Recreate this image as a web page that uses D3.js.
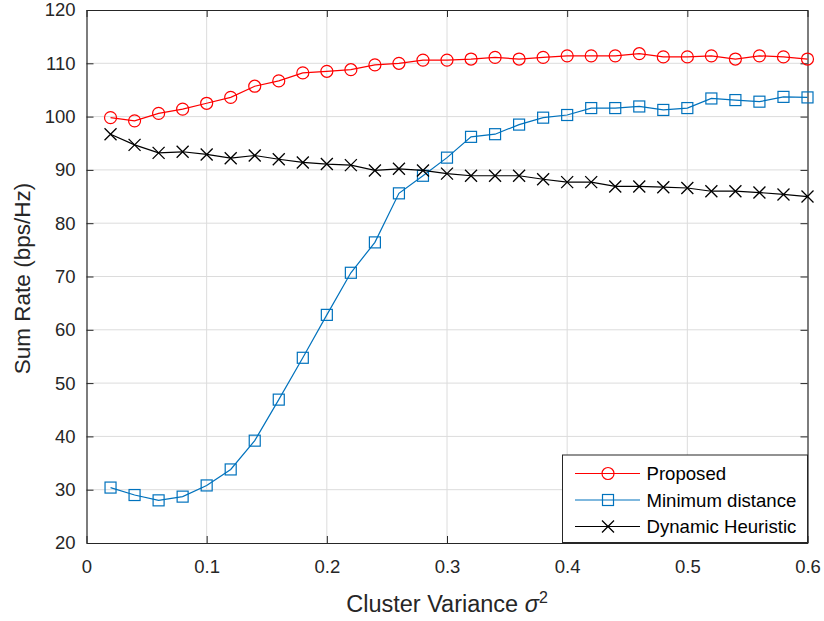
<!DOCTYPE html>
<html><head><meta charset="utf-8">
<script src="https://cdn.jsdelivr.net/npm/d3@7"></script>
<style>body{margin:0;background:#fff}svg{display:block}</style>
</head><body>
<script>
const xValues = [0.02,0.04,0.06,0.08,0.10,0.12,0.14,0.16,0.18,0.20,0.22,0.24,0.26,0.28,0.30,0.32,0.34,0.36,0.38,0.40,0.42,0.44,0.46,0.48,0.50,0.52,0.54,0.56,0.58,0.60];
const proposed = [99.8,99.2,100.6,101.4,102.5,103.6,105.7,106.7,108.2,108.5,108.8,109.7,110.0,110.6,110.6,110.8,111.1,110.8,111.1,111.4,111.4,111.4,111.8,111.2,111.2,111.4,110.8,111.4,111.2,110.8];
const minDistance = [30.4,29.0,28.0,28.7,30.8,33.8,39.2,46.9,54.75,62.8,70.7,76.4,85.6,88.9,92.3,96.2,96.7,98.5,99.8,100.3,101.6,101.6,101.9,101.25,101.6,103.4,103.1,102.8,103.7,103.6];
const heuristic = [96.7,94.7,93.2,93.4,92.9,92.2,92.7,92.0,91.4,91.1,90.9,89.9,90.2,89.9,89.3,88.9,88.9,88.9,88.25,87.7,87.7,86.9,86.9,86.75,86.6,86.0,86.0,85.75,85.4,85.0];
const xTicks = [0,0.1,0.2,0.3,0.4,0.5,0.6];
const xTickLabels = ["0","0.1","0.2","0.3","0.4","0.5","0.6"];
const yTicks = [20,30,40,50,60,70,80,90,100,110,120];
const seriesNames = ["Proposed","Minimum distance","Dynamic Heuristic"];

const W=824,H=621;
const L=86.5,R=807.5,T=10,B=543;
const svg=d3.select("body").append("svg").attr("width",W).attr("height",H);
const x=d3.scaleLinear().domain([0,0.6]).range([L,R]);
const y=d3.scaleLinear().domain([20,120]).range([B,T]);
const font="'Liberation Sans', Arial, Helvetica, sans-serif";
const axisCol="#262626";

// grid
const g=svg.append("g");
g.selectAll(".gx").data(xTicks.slice(1,-1)).enter().append("line")
 .attr("x1",d=>x(d)).attr("x2",d=>x(d)).attr("y1",T).attr("y2",B)
 .attr("stroke","#dcdcdc").attr("stroke-width",1);
g.selectAll(".gy").data(yTicks.slice(1,-1)).enter().append("line")
 .attr("y1",d=>y(d)).attr("y2",d=>y(d)).attr("x1",L).attr("x2",R)
 .attr("stroke","#dcdcdc").attr("stroke-width",1);

// axes
const xAxisB=d3.axisBottom(x).tickValues(xTicks).tickFormat((d,i)=>xTickLabels[i]).tickSizeInner(-7).tickSizeOuter(0).tickPadding(17);
const xAxisT=d3.axisTop(x).tickValues(xTicks).tickFormat("").tickSizeInner(-7).tickSizeOuter(0);
const yAxisL=d3.axisLeft(y).tickValues(yTicks).tickSizeInner(-7).tickSizeOuter(0).tickPadding(11);
const yAxisR=d3.axisRight(y).tickValues(yTicks).tickFormat("").tickSizeInner(-7).tickSizeOuter(0);
function styleAxis(sel){
  sel.selectAll("path").attr("stroke",axisCol).attr("stroke-width",1.2);
  sel.selectAll("line").attr("stroke",axisCol).attr("stroke-width",1);
  sel.selectAll("text").attr("fill",axisCol).style("font-family",font).style("font-size","18.5px");
}
styleAxis(svg.append("g").attr("transform",`translate(0,${B})`).call(xAxisB));
styleAxis(svg.append("g").attr("transform",`translate(0,${T})`).call(xAxisT));
styleAxis(svg.append("g").attr("transform",`translate(${L},0)`).call(yAxisL));
styleAxis(svg.append("g").attr("transform",`translate(${R},0)`).call(yAxisR));

// lines
const series=[
 {name:seriesNames[0],vals:proposed,color:"#ff0000",marker:"circle"},
 {name:seriesNames[1],vals:minDistance,color:"#0072bd",marker:"square"},
 {name:seriesNames[2],vals:heuristic,color:"#000000",marker:"x"}
];
const line=d3.line().x((d,i)=>x(xValues[i])).y(d=>y(d));
function drawMarker(sel,type,color,cx,cy){
  if(type==="circle") sel.append("circle").attr("cx",cx).attr("cy",cy).attr("r",6).attr("fill","none").attr("stroke",color).attr("stroke-width",1.2);
  else if(type==="square") sel.append("rect").attr("x",cx-5.5).attr("y",cy-5.5).attr("width",11).attr("height",11).attr("fill","none").attr("stroke",color).attr("stroke-width",1.2);
  else { const s=6; sel.append("path").attr("d",`M${cx-s},${cy-s}L${cx+s},${cy+s}M${cx-s},${cy+s}L${cx+s},${cy-s}`).attr("stroke",color).attr("stroke-width",1.3).attr("fill","none"); }
}
series.forEach(s=>{
  svg.append("path").datum(s.vals).attr("d",line).attr("fill","none").attr("stroke",s.color).attr("stroke-width",1.2);
  const mg=svg.append("g");
  s.vals.forEach((v,i)=>drawMarker(mg,s.marker,s.color,x(xValues[i]),y(v)));
});

// legend
const lg=svg.append("g");
lg.append("rect").attr("x",562.5).attr("y",455).attr("width",245).attr("height",87.5).attr("fill","#fff").attr("stroke",axisCol).attr("stroke-width",1);
series.forEach((s,i)=>{
  const yy=473.5+i*26.5;
  lg.append("line").attr("x1",575).attr("x2",640).attr("y1",yy).attr("y2",yy).attr("stroke",s.color).attr("stroke-width",1.2);
  drawMarker(lg,s.marker,s.color,608,yy);
  lg.append("text").attr("x",646.5).attr("y",yy+6.5).text(s.name).attr("fill","#000").style("font-family",font).style("font-size","18.6px");
});

// labels
svg.append("text").attr("transform",`translate(30,${(T+B)/2+2}) rotate(-90)`).attr("text-anchor","middle")
 .style("font-family",font).style("font-size","22.5px").attr("fill",axisCol).text("Sum Rate (bps/Hz)");
const xl=svg.append("text").attr("x",(L+R)/2).attr("y",612).attr("text-anchor","middle")
 .style("font-family",font).style("font-size","23.5px").attr("fill",axisCol);
xl.append("tspan").text("Cluster Variance ");
xl.append("tspan").text("σ").style("font-style","italic");
xl.append("tspan").text("2").attr("dy",-9).style("font-size","16px");
</script>
</body></html>
